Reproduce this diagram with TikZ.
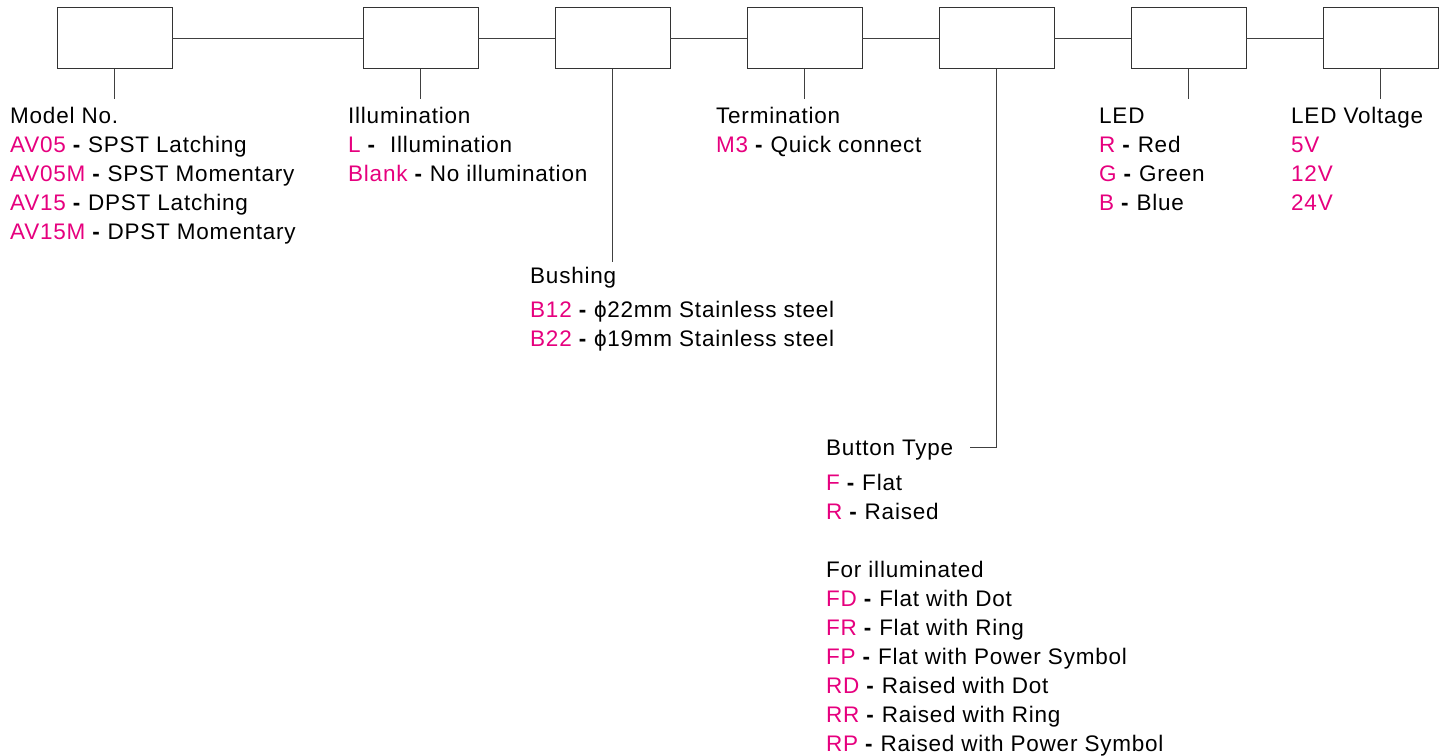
\documentclass[tikz,border=0pt]{standalone}
\usepackage{fontspec}
\setmainfont[LetterSpace=3.4]{Liberation Sans}
\usetikzlibrary{positioning}

\definecolor{codepink}{HTML}{E6007E}
\newcommand{\opt}[2]{{\color{codepink}#1} \textbf{-} #2}

\tikzset{
  keybox/.style={draw=black!80, line width=0.9pt, minimum width=115pt, minimum height=61pt, inner sep=0pt},
  link/.style={draw=black!75, line width=0.9pt},
  item/.style={anchor=base west, inner sep=0pt, font=\fontsize{22.5}{27}\selectfont}
}

\begin{document}
\begin{tikzpicture}[x=1pt, y=-1pt]
        \useasboundingbox (0,0) rectangle (1443,755);

        % code boxes
        \node[keybox] (model) at (114.5,38) {};
        \node[keybox] (illum) at (420.5,38) {};
        \node[keybox] (bush) at (612.5,38) {};
        \node[keybox] (term) at (804.5,38) {};
        \node[keybox] (button) at (996.5,38) {};
        \node[keybox] (led) at (1188.5,38) {};
        \node[keybox] (volt) at (1380.5,38) {};

        \draw[link] (model) -- (illum) (illum) -- (bush) (bush) -- (term)
                (term) -- (button) (button) -- (led) (led) -- (volt);

        % drop lines
        \coordinate (modelend) at (114.5,99);
        \coordinate (illumend) at (420.5,99);
        \coordinate (bushend) at (612.5,262);
        \coordinate (termend) at (804.5,99);
        \coordinate (buttonbend) at (996.5,447);
        \coordinate (buttonend) at (970,447);
        \coordinate (ledend) at (1188.5,99);
        \coordinate (voltend) at (1380.5,99);

        \draw[link] (model.south) -- (modelend);
        \draw[link] (illum.south) -- (illumend);
        \draw[link] (bush.south) -- (bushend);
        \draw[link] (term.south) -- (termend);
        \draw[link] (button.south) -- (buttonbend) -- (buttonend);
        \draw[link] (led.south) -- (ledend);
        \draw[link] (volt.south) -- (voltend);

        % model no.
        \node[item] (modelhead) at (10,123) {Model No.};
        \foreach \code/\desc [count=\i] in {AV05/SPST Latching, AV05M/SPST Momentary,
                AV15/DPST Latching, AV15M/DPST Momentary}
          \node[item] (model\i) at (10,{123+29*\i}) {\opt{\code}{\desc}};

        % illumination
        \node[item] (illumhead) at (348,123) {Illumination};
        \node[item] (illum1) at (348,152) {\opt{L}{\ Illumination}};
        \node[item] (illum2) at (348,181) {\opt{Blank}{No illumination}};

        % bushing
        \node[item] (bushhead) at (530,283) {Bushing};
        \node[item] (bush1) at (530,317) {\opt{B12}{ϕ22mm Stainless steel}};
        \node[item] (bush2) at (530,346) {\opt{B22}{ϕ19mm Stainless steel}};

        % termination
        \node[item] (termhead) at (716,123) {Termination};
        \node[item] (term1) at (716,152) {\opt{M3}{Quick connect}};

        % button type
        \node[item] (buttonhead) at (826,455) {Button Type};
        \node[item] (button1) at (826,490) {\opt{F}{Flat}};
        \node[item] (button2) at (826,519) {\opt{R}{Raised}};
        \node[item] (lithead) at (826,577) {For illuminated};
        \foreach \code/\desc [count=\i] in {FD/Flat with Dot, FR/Flat with Ring,
                FP/Flat with Power Symbol, RD/Raised with Dot, RR/Raised with Ring,
                RP/Raised with Power Symbol}
          \node[item] (lit\i) at (826,{577+29*\i}) {\opt{\code}{\desc}};

        % led
        \node[item] (ledhead) at (1099,123) {LED};
        \node[item] (led1) at (1099,152) {\opt{R}{Red}};
        \node[item] (led2) at (1099,181) {\opt{G}{Green}};
        \node[item] (led3) at (1099,210) {\opt{B}{Blue}};

        % led voltage
        \node[item] (volthead) at (1291,123) {LED Voltage};
        \foreach \v [count=\i] in {5V,12V,24V}
          \node[item, text=codepink] (volt\i) at (1291,{123+29*\i}) {\v};
\end{tikzpicture}
\end{document}
